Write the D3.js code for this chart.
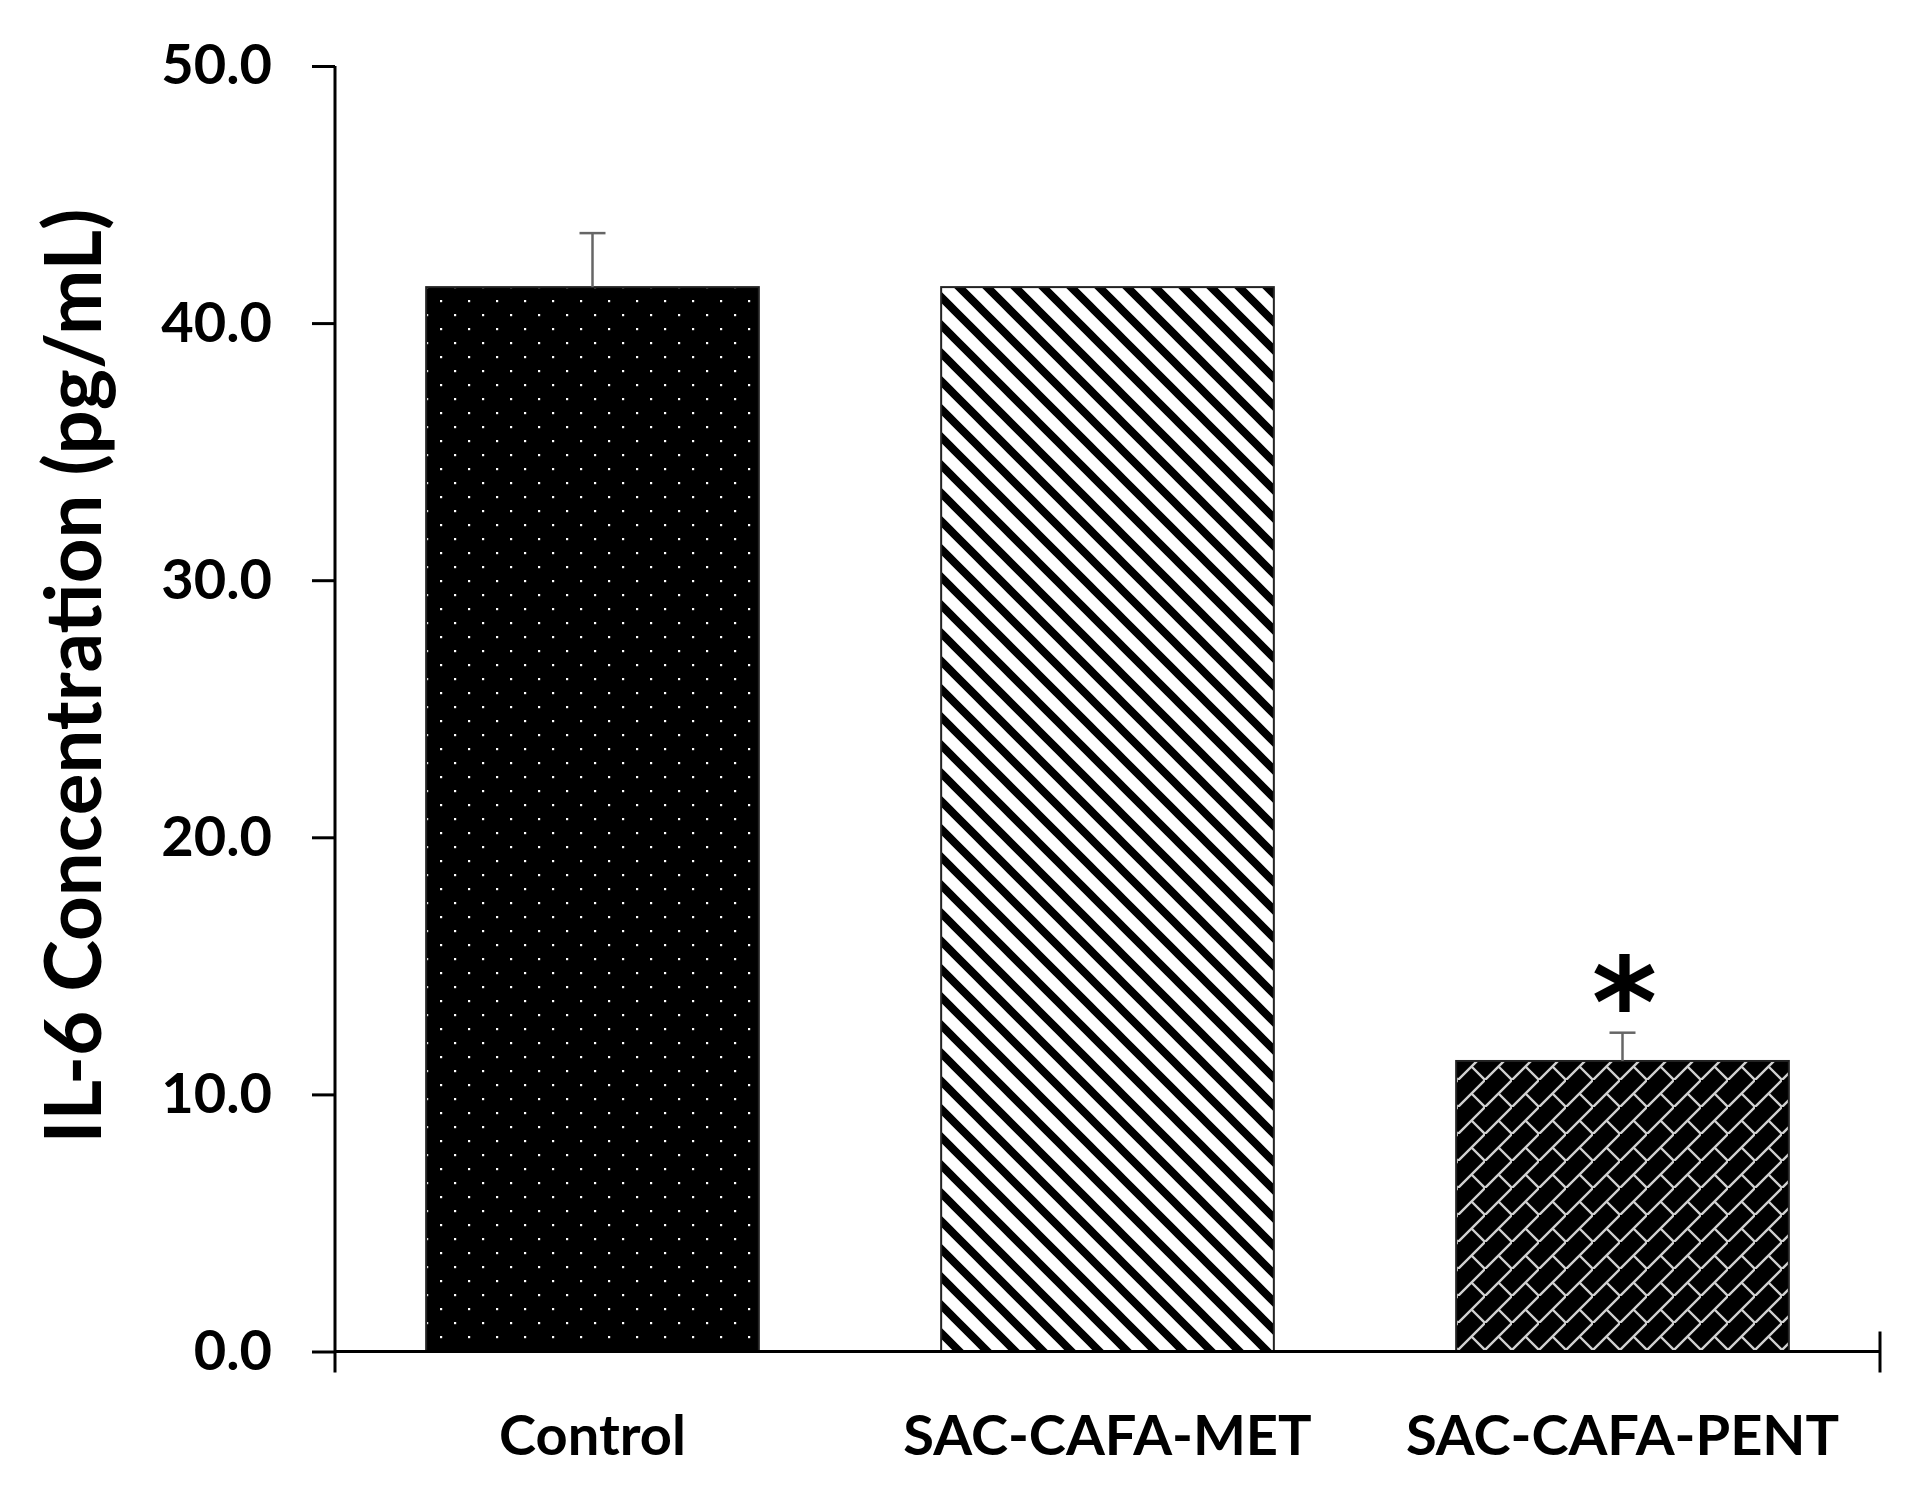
<!DOCTYPE html>
<html>
<head>
<meta charset="utf-8">
<script src="https://cdn.jsdelivr.net/npm/d3@7"></script>
<style>
  body { margin: 0; background: #fff; }
</style>
</head>
<body>
<div id="chart"></div>
<script>
//CHART DATA
var categories = ["Control", "SAC-CAFA-MET", "SAC-CAFA-PENT"];
var means = [41.4, 41.4, 11.3];
var errors = [2.1, 0, 1.1];
var yTicks = [0, 10, 20, 30, 40, 50];
var fills = ["dots", "stripes", "brick"];
var marks = ["", "", "*"];

//SVG DIMENSIONS
var width = 1911;
var height = 1491;
var plotLeft = 335, plotRight = 1880, plotTop = 66, plotBottom = 1351.5;

var svg = d3
  .select('#chart')
  .append('svg')
  .attr('width', width)
  .attr('height', height);

var defs = svg.append('defs');

// dotted black fill
var p1 = defs.append('pattern')
  .attr('id', 'dots')
  .attr('patternUnits', 'userSpaceOnUse')
  .attr('width', 28).attr('height', 28);
p1.append('rect').attr('width', 28).attr('height', 28).attr('fill', '#000');
p1.append('rect').attr('x', 6).attr('y', 6).attr('width', 2.2).attr('height', 2.2).attr('fill', '#fff');
p1.append('rect').attr('x', 20).attr('y', 20).attr('width', 2.2).attr('height', 2.2).attr('fill', '#fff');

// wide downward diagonal
var p2 = defs.append('pattern')
  .attr('id', 'stripes')
  .attr('patternUnits', 'userSpaceOnUse')
  .attr('width', 28).attr('height', 28);
p2.append('rect').attr('width', 28).attr('height', 28).attr('fill', '#fff');
p2.append('path')
  .attr('d', 'M-7,-7L35,35M-7,21L7,35M21,-7L35,7')
  .attr('stroke', '#000')
  .attr('stroke-width', 8);

// diagonal brick
var p3 = defs.append('pattern')
  .attr('id', 'brick')
  .attr('patternUnits', 'userSpaceOnUse')
  .attr('width', 27).attr('height', 27);
p3.append('rect').attr('width', 27).attr('height', 27).attr('fill', '#000');
p3.append('path')
  .attr('d', 'M-2,29L29,-2M13.5,13.5L27,27')
  .attr('stroke', '#d0d0d0')
  .attr('stroke-width', 2.4);

var x = d3.scaleBand()
  .domain(categories)
  .range([plotLeft, plotRight])
  .paddingInner(0.354)
  .paddingOuter(0.177);

var y = d3.scaleLinear()
  .domain([0, 50])
  .range([plotBottom, plotTop]);

var cx = (d) => x(d) + x.bandwidth() / 2;

// bars
svg.selectAll('.bar')
  .data(categories)
  .enter()
  .append('rect')
  .attr('class', 'bar')
  .attr('x', (d) => x(d))
  .attr('y', (d, i) => y(means[i]))
  .attr('width', x.bandwidth())
  .attr('height', (d, i) => y(0) - y(means[i]))
  .attr('fill', (d, i) => 'url(#' + fills[i] + ')')
  .attr('stroke', '#222')
  .attr('stroke-width', 2);

// error bars (upper only)
var eb = svg.selectAll('.err')
  .data(categories.filter((d, i) => errors[i] > 0))
  .enter()
  .append('g')
  .attr('class', 'err')
  .attr('stroke', '#666')
  .attr('stroke-width', 2.5);
eb.append('line')
  .attr('x1', cx)
  .attr('x2', cx)
  .attr('y1', (d) => y(means[categories.indexOf(d)]))
  .attr('y2', (d) => { var i = categories.indexOf(d); return y(means[i] + errors[i]); });
eb.append('line')
  .attr('x1', (d) => cx(d) - 13)
  .attr('x2', (d) => cx(d) + 13)
  .attr('y1', (d) => { var i = categories.indexOf(d); return y(means[i] + errors[i]); })
  .attr('y2', (d) => { var i = categories.indexOf(d); return y(means[i] + errors[i]); });

// significance mark
svg.selectAll('.sig')
  .data(categories)
  .enter()
  .append('text')
  .attr('class', 'sig')
  .attr('x', (d) => cx(d) + 2)
  .attr('y', (d, i) => y(means[i] + errors[i]) + 14)
  .attr('text-anchor', 'middle')
  .attr('font-family', 'DejaVu Sans')
  .attr('font-weight', 'bold')
  .attr('font-size', 125)
  .text((d, i) => marks[i]);

// y axis
var yAxis = svg.append('g')
  .attr('transform', 'translate(' + plotLeft + ',0)')
  .call(d3.axisLeft(y)
    .tickValues(yTicks)
    .tickSize(23)
    .tickPadding(40)
    .tickFormat(d3.format('.1f')));
yAxis.select('.domain')
  .attr('d', 'M0,' + plotTop + 'V' + (plotBottom + 21))
  .attr('stroke-width', 3);
yAxis.selectAll('line').attr('stroke-width', 3);
yAxis.selectAll('text')
  .attr('font-family', 'Lato')
  .attr('font-weight', 'bold')
  .attr('font-size', 56)
  .attr('fill', '#000');

// x axis
var xAxis = svg.append('g')
  .attr('transform', 'translate(0,' + plotBottom + ')');
xAxis.append('line')
  .attr('x1', plotLeft).attr('x2', plotRight)
  .attr('stroke', '#000').attr('stroke-width', 3);
xAxis.append('line')
  .attr('x1', plotRight).attr('x2', plotRight)
  .attr('y1', -20).attr('y2', 21)
  .attr('stroke', '#000').attr('stroke-width', 3);
xAxis.selectAll('.cat')
  .data(categories)
  .enter()
  .append('text')
  .attr('class', 'cat')
  .attr('x', cx)
  .attr('y', 103)
  .attr('text-anchor', 'middle')
  .attr('font-family', 'Lato')
  .attr('font-weight', 'bold')
  .attr('font-size', 56)
  .text((d) => d);

// y label
svg.append('text')
  .attr('transform', 'translate(101,676) rotate(-90)')
  .attr('text-anchor', 'middle')
  .attr('font-family', 'Lato')
  .attr('font-weight', 'bold')
  .attr('font-size', 78)
  .text('IL-6 Concentration (pg/mL)');
</script>
</body>
</html>
